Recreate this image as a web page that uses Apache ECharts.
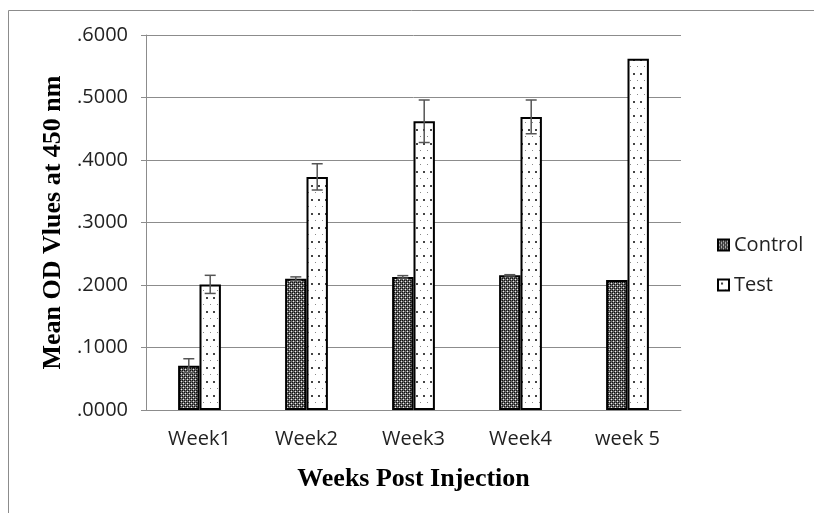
<!DOCTYPE html>
<html>
<head>
<meta charset="utf-8">
<script src="https://cdn.jsdelivr.net/npm/echarts@6/dist/echarts.min.js"></script>
<style>
  html, body { margin: 0; padding: 0; background: #fff; }
  #chart { width: 814px; height: 513px; }
</style>
</head>
<body>
<div id="chart"></div>
<script>
// data
const weeks = ['Week1', 'Week2', 'Week3', 'Week4', 'week 5']
const controlMean = [0.071, 0.210, 0.213, 0.2155, 0.208]
const controlErr = [0.011, 0.003, 0.002, 0.001, null]
const testMean = [0.201, 0.373, 0.462, 0.469, 0.562]
const testErr = [0.0145, 0.021, 0.034, 0.027, null]

// fill patterns (checker for control, sparse dots for test)
function makeControlPattern() {
  const c = document.createElement('canvas')
  c.width = 4
  c.height = 4
  const ctx = c.getContext('2d')
  ctx.fillStyle = '#666'
  ctx.fillRect(0, 0, 4, 4)
  ctx.fillStyle = '#111'
  ctx.fillRect(0, 0, 1, 1)
  ctx.fillRect(2, 2, 1, 1)
  ctx.fillRect(2, 0, 1, 1)
  ctx.fillRect(0, 2, 1, 1)
  ctx.fillStyle = '#eee'
  ctx.fillRect(1, 1, 1, 1)
  ctx.fillRect(3, 3, 1, 1)
  return c
}
function makeTestPattern() {
  const c = document.createElement('canvas')
  c.width = 7
  c.height = 14
  const ctx = c.getContext('2d')
  ctx.fillStyle = '#fff'
  ctx.fillRect(0, 0, 7, 14)
  ctx.fillStyle = '#444'
  ctx.fillRect(3, 3, 2, 2)
  ctx.fillStyle = '#888'
  ctx.fillRect(0, 10, 1, 1)
  return c
}

const chart = echarts.init(document.getElementById('chart'))

const labelFont = 'Open Sans'
const titleFont = 'Liberation Serif'

function errorSeries(means, errs, side) {
  const data = []
  for (let i = 0; i < means.length; i++) {
    if (errs[i] == null) continue
    data.push([i, means[i] - errs[i], means[i] + errs[i]])
  }
  return {
    type: 'custom',
    z: 10,
    silent: true,
    data: data,
    renderItem: function (params, api) {
      const band = api.size([1, 0])[0]
      const barW = band * 0.2
      const x = api.coord([api.value(0), 0])[0] + side * barW / 2
      const yLo = api.coord([api.value(0), api.value(1)])[1]
      const yHi = api.coord([api.value(0), api.value(2)])[1]
      const cap = 5.5
      const style = { stroke: '#555', lineWidth: 1.5 }
      return {
        type: 'group',
        children: [
          { type: 'line', shape: { x1: x, y1: yLo, x2: x, y2: yHi }, style: style },
          { type: 'line', shape: { x1: x - cap, y1: yHi, x2: x + cap, y2: yHi }, style: style },
          { type: 'line', shape: { x1: x - cap, y1: yLo, x2: x + cap, y2: yLo }, style: style }
        ]
      }
    }
  }
}

const option = {
  animation: false,
  backgroundColor: '#fff',
  graphic: [
    {
      type: 'rect',
      shape: { x: 8.5, y: 10.5, width: 1000, height: 1000 },
      style: { fill: 'none', stroke: '#8c8c8c', lineWidth: 1 },
      silent: true
    }
  ],
  grid: { left: 146, right: 133, top: 35, bottom: 103 },
  legend: {
    orient: 'vertical',
    left: 712,
    top: 230,
    itemWidth: 11,
    itemHeight: 11,
    itemGap: 20,
    icon: 'rect',
    textStyle: { fontFamily: labelFont, fontSize: 20, color: '#222' },
    data: ['Control', 'Test']
  },
  xAxis: {
    type: 'category',
    data: weeks,
    name: 'Weeks Post Injection',
    nameLocation: 'middle',
    nameGap: 56,
    nameTextStyle: { fontFamily: titleFont, fontWeight: 'bold', fontSize: 26, color: '#000' },
    axisLine: { lineStyle: { color: '#8c8c8c', width: 1 } },
    axisTick: { show: false },
    axisLabel: { fontFamily: labelFont, fontSize: 20, color: '#222', margin: 19 }
  },
  yAxis: {
    type: 'value',
    min: 0,
    max: 0.6,
    interval: 0.1,
    name: 'Mean OD Vlues at 450 nm',
    nameLocation: 'middle',
    nameGap: 80,
    nameRotate: 90,
    nameTextStyle: { fontFamily: titleFont, fontWeight: 'bold', fontSize: 26, color: '#000' },
    axisLine: { show: true, lineStyle: { color: '#8c8c8c', width: 1 } },
    axisTick: { show: true, inside: false, length: 5, lineStyle: { color: '#8c8c8c' } },
    splitLine: { lineStyle: { color: '#8c8c8c', width: 1 } },
    axisLabel: {
      fontFamily: labelFont,
      fontSize: 20,
      color: '#222',
      margin: 18,
      formatter: function (v) {
        return v.toFixed(4).replace(/^0/, '')
      }
    }
  },
  series: [
    {
      name: 'Control',
      type: 'bar',
      data: controlMean,
      barGap: '0%',
      barCategoryGap: '60%',
      itemStyle: {
        color: { image: makeControlPattern(), repeat: 'repeat' },
        borderColor: '#000',
        borderWidth: 2
      }
    },
    {
      name: 'Test',
      type: 'bar',
      data: testMean,
      barGap: '0%',
      barCategoryGap: '60%',
      itemStyle: {
        color: { image: makeTestPattern(), repeat: 'repeat' },
        borderColor: '#000',
        borderWidth: 2
      }
    },
    errorSeries(controlMean, controlErr, -1),
    errorSeries(testMean, testErr, 1)
  ]
}

chart.setOption(option)
</script>
</body>
</html>
